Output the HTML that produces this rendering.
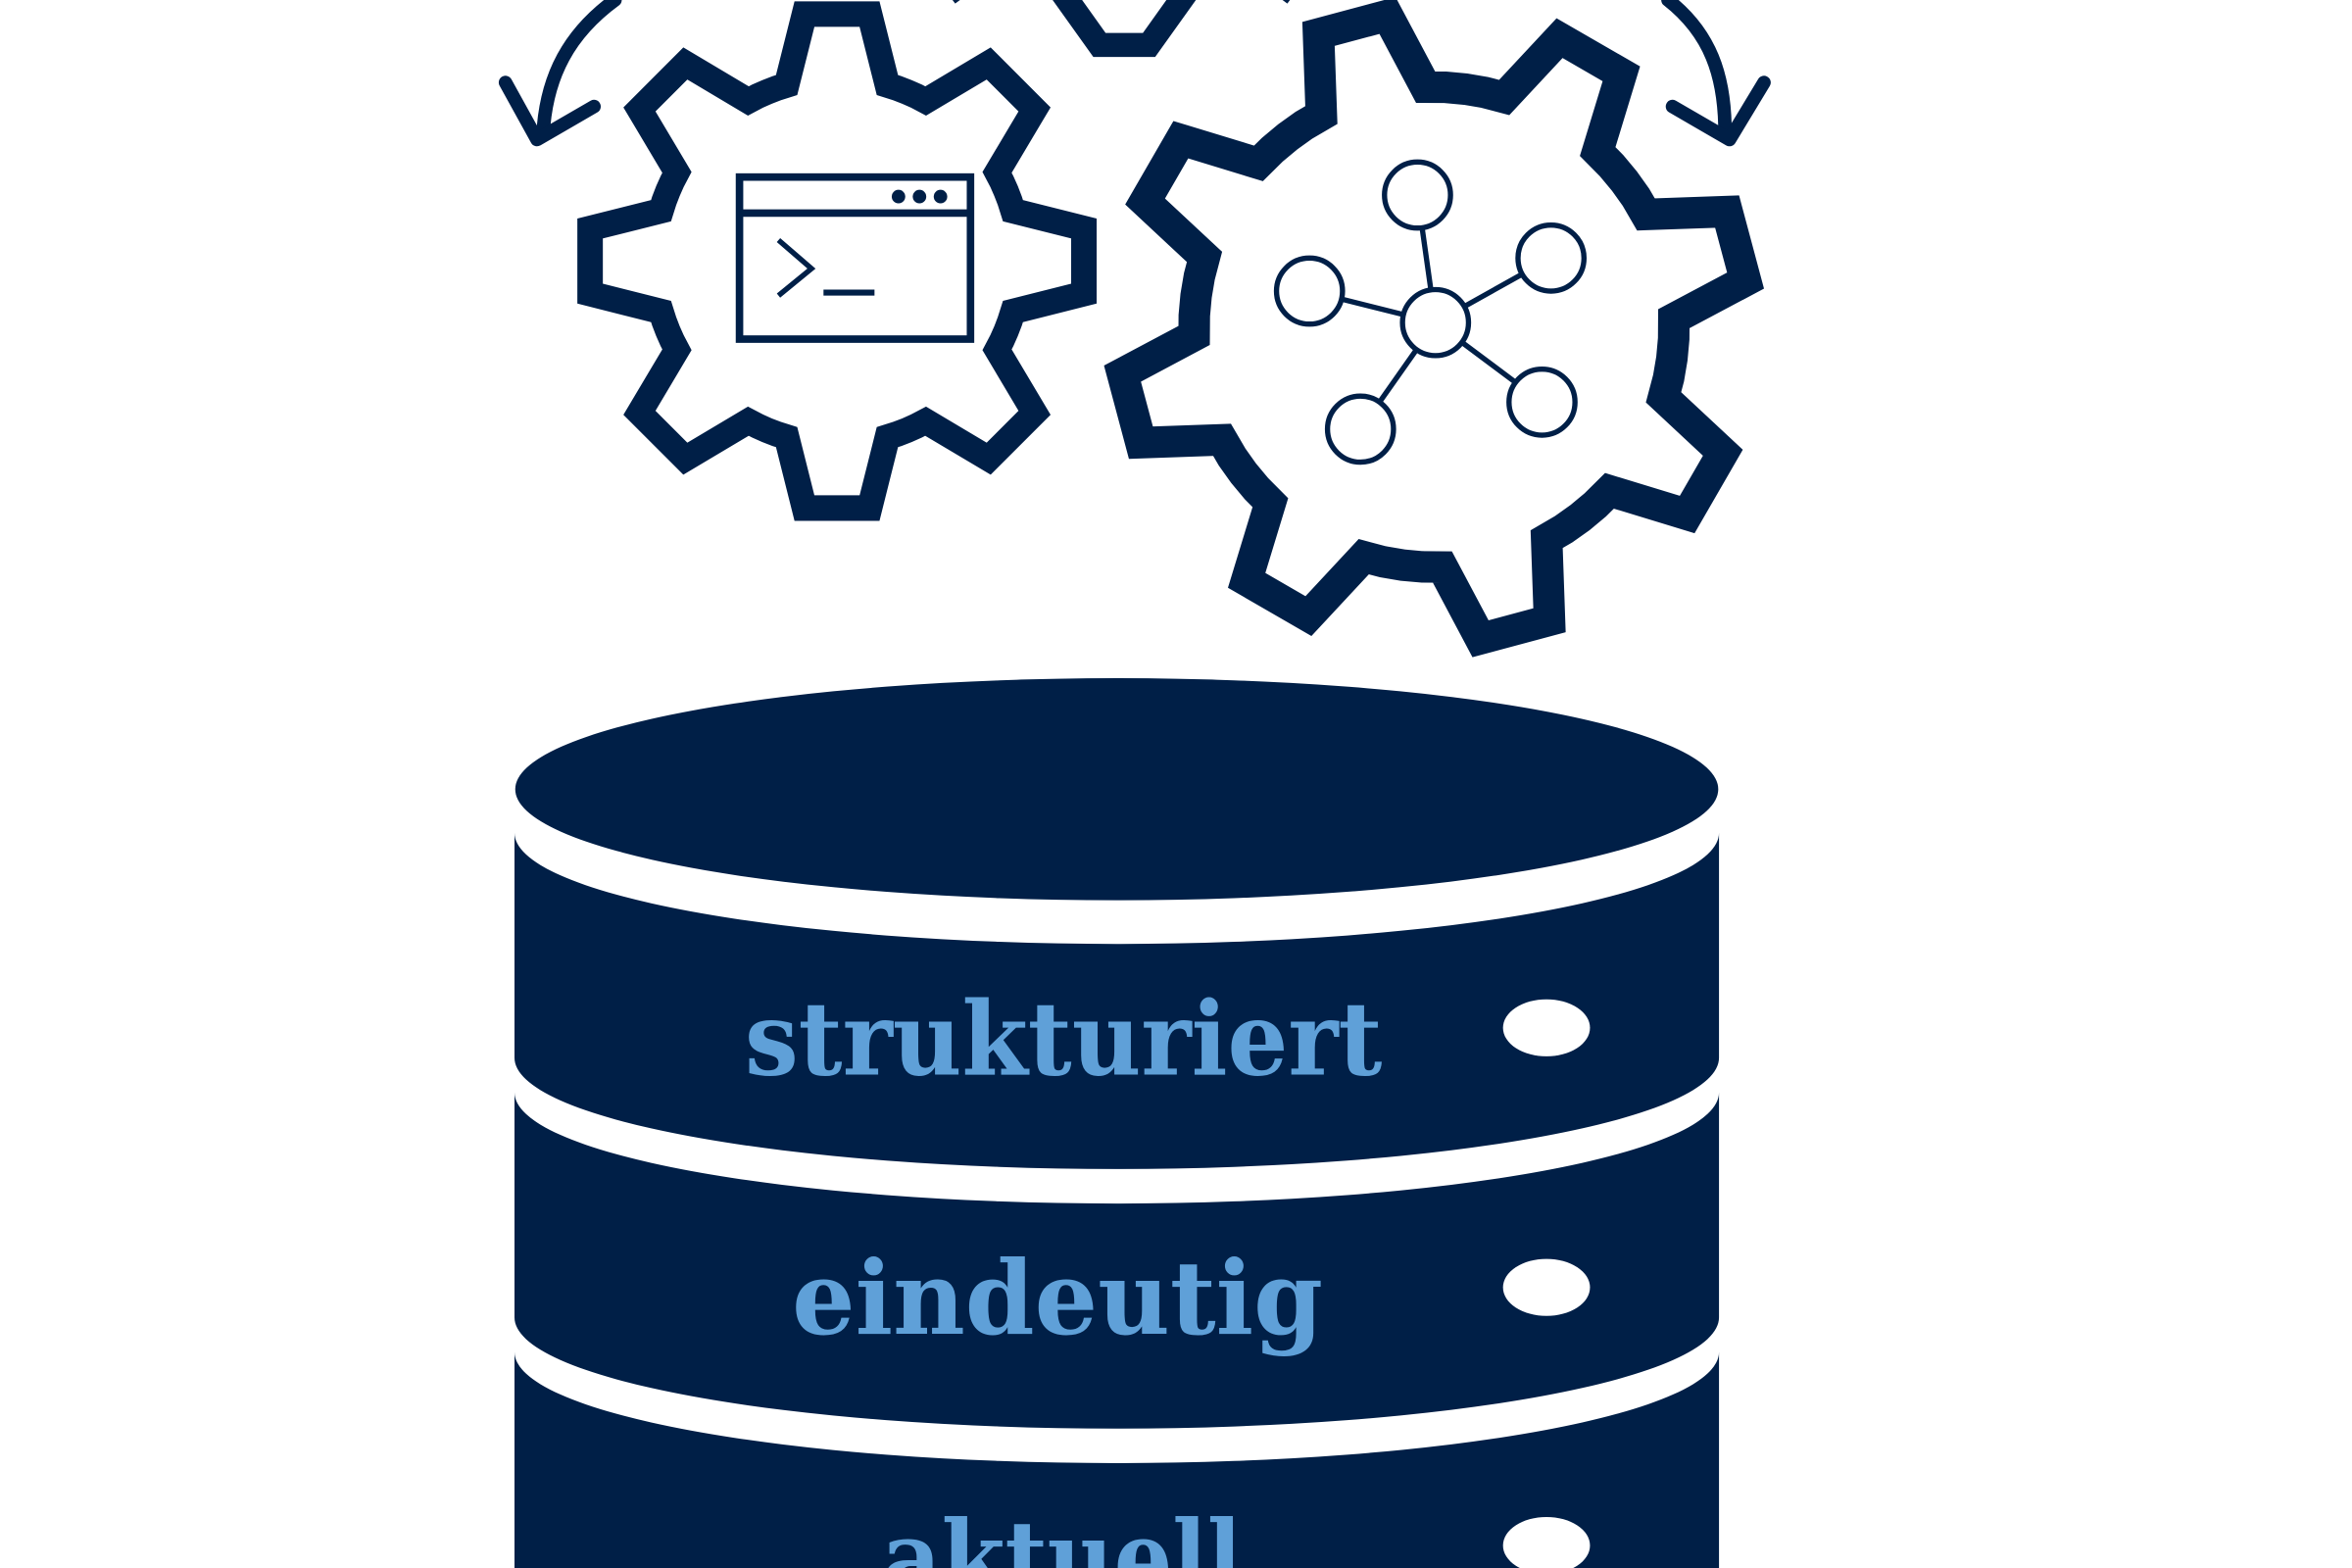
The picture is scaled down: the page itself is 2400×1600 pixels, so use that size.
<!DOCTYPE html>
<html><head><meta charset="utf-8"><style>
html,body{margin:0;padding:0;background:#fff;}
svg{display:block;}
</style></head><body>
<svg width="2400" height="1600" viewBox="0 0 1568 1045" preserveAspectRatio="none" xmlns="http://www.w3.org/2000/svg">
<rect width="1568" height="1045" fill="#fff"/>
<g fill="none" stroke="#001f47" stroke-linejoin="miter">
  <polygon id="g1" stroke-width="17"/>
  <polygon id="g2" stroke-width="21"/>
  <polyline points="708,-5 733,30 766,30 791,-5" stroke-width="16"/>
  <path d="M410,0 C380,22 364,50 362,90" stroke-width="9" stroke-linecap="round"/>
  <polyline points="337,55 358,93 396,71" stroke-width="9" stroke-linecap="round" stroke-linejoin="round"/>
  <path d="M1112,0 C1140,22 1150,50 1150,88" stroke-width="9" stroke-linecap="round"/>
  <polyline points="1115,71 1153,93 1176,55" stroke-width="9" stroke-linecap="round" stroke-linejoin="round"/>
  <path d="M635,0 l4,-3 M860,0 l-4,-3" stroke-width="6"/>
  <rect x="493" y="118" width="154" height="108" stroke-width="5"/>
  <line x1="493" y1="142" x2="647" y2="142" stroke-width="5"/>
  <polyline points="519,160 541,179 519,197" stroke-width="3.5"/>
  <line x1="549" y1="195" x2="583" y2="195" stroke-width="4"/>
  <g stroke-width="3.5">
    <line x1="945" y1="130" x2="957" y2="215"/>
    <line x1="873" y1="194" x2="957" y2="215"/>
    <line x1="1034" y1="172" x2="957" y2="215"/>
    <line x1="907" y1="286" x2="957" y2="215"/>
    <line x1="1028" y1="268" x2="957" y2="215"/>
    <g fill="#fff">
      <circle cx="945" cy="130" r="22"/>
      <circle cx="1034" cy="172" r="22"/>
      <circle cx="873" cy="194" r="22"/>
      <circle cx="957" cy="215" r="22"/>
      <circle cx="907" cy="286" r="22"/>
      <circle cx="1028" cy="268" r="22"/>
    </g>
  </g>
</g>
<g fill="#001f47">
  <circle cx="599" cy="131" r="4.5"/><circle cx="613" cy="131" r="4.5"/><circle cx="627" cy="131" r="4.5"/>
  <ellipse cx="744.5" cy="526" rx="401" ry="74"/>
  <path d="M343,555 A401,74 0 0 0 1146,555 L1146,705 A401,74 0 0 1 343,705 Z"/>
  <path d="M343,728 A401,74 0 0 0 1146,728 L1146,878 A401,74 0 0 1 343,878 Z"/>
  <path d="M343,901 A401,74 0 0 0 1146,901 L1146,1050 L343,1050 Z"/>
</g>
<g fill="#fff">
  <ellipse cx="1031" cy="685" rx="29" ry="19"/>
  <ellipse cx="1031" cy="858" rx="29" ry="19"/>
  <ellipse cx="1031" cy="1030" rx="29" ry="19"/>
</g>
<g fill="#5fa0d8" font-family="'DejaVu Serif',serif" font-weight="bold" font-size="68" text-anchor="middle">
  <text x="709" y="716" textLength="425" lengthAdjust="spacingAndGlyphs">strukturiert</text>
  <text x="705" y="889" textLength="354" lengthAdjust="spacingAndGlyphs">eindeutig</text>
  <text x="708" y="1062" textLength="240" lengthAdjust="spacingAndGlyphs">aktuell</text>
</g>
</svg>
<script>
function gear(id,cx,cy,n,rt,rr,a0,th,bh){
  var pts=[],d=Math.PI/180,p=360/n;
  for(var i=0;i<n;i++){
    var a=a0+i*p;
    var seq=[[a-bh,rr],[a-th,rt],[a+th,rt],[a+bh,rr]];
    for(var k=1;k<4;k++){seq.push([a+bh+(p-2*bh)*k/4,rr]);}
    seq.forEach(function(s){pts.push((cx+s[1]*Math.cos(s[0]*d)).toFixed(1)+','+(cy+s[1]*Math.sin(s[0]*d)).toFixed(1));});
  }
  document.getElementById(id).setAttribute('points',pts.join(' '));
}
gear('g1',558,174,8,166,122,-90,7.5,16);
gear('g2',956,218,8,210,160,-15,6.5,13);
</script>
</body></html>
